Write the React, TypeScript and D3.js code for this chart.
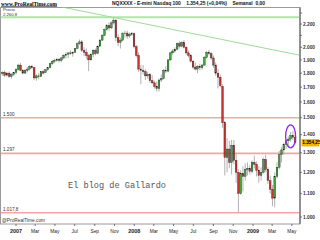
import React from 'react';
import * as d3 from 'd3';

// Weekly candles starting week of 2006-11-20
const startWeek = new Date(2006, 10, 20);
const opens = [1795,1805,1785,1800,1775,1790,1805,1825,1860,1820,1800,1820,1830,1850,1840,1765,1780,1775,1810,1805,1825,1840,1870,1890,1895,1905,1895,1915,1935,1945,1955,1950,1960,1990,2030,2045,1975,1960,1935,1900,1945,1975,1950,2010,2060,2100,2150,2185,2165,2210,2235,2080,2040,2060,2115,2120,2095,2110,2115,2005,1935,1830,1820,1810,1780,1790,1745,1730,1705,1690,1750,1760,1820,1815,1900,1955,1970,1985,2030,2010,2040,2000,1955,1935,1890,1845,1830,1850,1840,1860,1920,1960,1950,1915,1860,1800,1770,1705,1470,1275,1320,1250,1340,1260,1200,1100,1195,1180,1215,1220,1205,1250,1240,1210,1185,1200,1265,1215,1160,1120,1080,1180,1225,1290,1315,1345,1365,1375,1395,1385];
const highs = [1815,1820,1810,1812,1800,1810,1835,1870,1875,1830,1830,1845,1860,1862,1845,1790,1800,1815,1825,1830,1845,1880,1900,1910,1915,1915,1925,1945,1960,1960,1975,1965,1995,2040,2065,2060,2000,1990,1945,1950,1985,1990,2015,2070,2110,2160,2200,2215,2225,2260,2245,2110,2080,2130,2140,2140,2125,2130,2125,2020,1960,1860,1860,1830,1810,1800,1785,1745,1740,1760,1790,1830,1850,1905,1965,1985,2000,2040,2050,2050,2060,2010,1975,1945,1900,1880,1860,1870,1870,1930,1970,1980,1960,1935,1880,1830,1790,1720,1480,1380,1365,1370,1370,1300,1215,1210,1230,1245,1250,1235,1260,1285,1255,1230,1225,1275,1290,1225,1185,1140,1200,1250,1310,1330,1355,1375,1390,1415,1420,1400];
const lows = [1780,1770,1775,1765,1760,1780,1790,1820,1815,1790,1795,1805,1820,1830,1750,1745,1755,1770,1790,1800,1815,1835,1860,1875,1885,1880,1885,1905,1910,1915,1940,1925,1955,1985,2020,1960,1930,1910,1815,1895,1920,1935,1945,2005,2050,2095,2140,2140,2155,2195,2050,2010,1990,2050,2080,2070,2080,2095,1990,1920,1810,1720,1790,1750,1760,1730,1720,1690,1670,1670,1735,1755,1800,1805,1890,1940,1955,1975,1990,2000,1990,1940,1920,1880,1830,1820,1800,1820,1825,1855,1910,1935,1900,1840,1780,1690,1700,1440,1185,1200,1220,1190,1240,1150,1017.8,1095,1110,1160,1185,1190,1195,1220,1180,1150,1160,1195,1200,1145,1100,1045,1040,1170,1215,1250,1290,1320,1330,1360,1370,1345];
const closes = [1805,1785,1800,1775,1790,1805,1825,1860,1820,1800,1820,1830,1850,1840,1765,1780,1775,1810,1800,1825,1840,1870,1890,1895,1905,1895,1915,1935,1945,1955,1950,1960,1990,2030,2045,1975,1960,1935,1900,1945,1975,1950,2010,2060,2100,2150,2185,2165,2210,2235,2080,2040,2060,2115,2120,2095,2110,2115,2005,1935,1830,1820,1810,1780,1790,1745,1730,1705,1690,1750,1760,1820,1815,1900,1955,1970,1985,2030,2010,2040,2000,1955,1935,1890,1845,1830,1850,1840,1860,1920,1960,1950,1915,1860,1800,1770,1710,1470,1275,1320,1250,1340,1260,1200,1100,1195,1180,1215,1220,1205,1250,1240,1210,1185,1200,1265,1215,1160,1120,1080,1180,1225,1290,1315,1345,1365,1375,1395,1385,1354.25];

const yTickValues = [2200, 2000, 1900, 1800, 1700, 1600, 1500, 1400, 1300, 1200, 1100, 1000];
const yTickLabels = ['2.200', '2.000', '1.900', '1.800', '1.700', '1.600', '1.500', '1.400', '1.300', '1.200', '1.100', '1.000'];
const yMinorTicks = [2300, 2100];
const xTickDates = ['2007-01-01','2007-03-01','2007-05-01','2007-07-01','2007-09-01','2007-11-01','2008-01-01','2008-03-01','2008-05-01','2008-07-01','2008-09-01','2008-11-01','2009-01-01','2009-03-01','2009-05-01'];
const xTickLabels = ['2007','Mar','May','Jul','Sep','Nov','2008','Mar','May','Jul','Sep','Nov','2009','Mar','May'];

const greenLevels = [2260.8];
const greenLabels = ['2.260,8'];
const redLevels = [1500, 1297, 1017.8];
const redLabels = ['1.500', '1.297', '1.017,8'];
const trendDates = ['2007-11-05', '2009-05-26'];
const trendPrices = [2255, 1936];
const lastPrice = 1354.25;
const lastLabel = '1.354,25';

const parse = (s: string) => { const [y, m, d] = s.split('-').map(Number); return new Date(y, m - 1, d); };

export default function App() {
  const W = 320, H = 240;
  const left = 0.5, right = 300, top = 7.5, bottom = 224;
  const x = d3.scaleTime().domain([new Date(2007, 0, 1), new Date(2009, 0, 1)]).range([16, 253]);
  const y = d3.scaleLog().domain([1000, 2200]).range([217, 24]);
  const dates = opens.map((_, i) => d3.timeDay.offset(startWeek, 7 * i));
  const bw = 1.7;
  const up = '#3aaa3a', down = '#cc3333';
  const font = 'Liberation Sans, Arial, sans-serif';

  const tx1 = x(parse(trendDates[0])), ty1 = y(trendPrices[0]);
  const tx2 = x(parse(trendDates[1])), ty2 = y(trendPrices[1]);

  return (
    <div>
      <style>{`body{margin:0;background:#fff}`}</style>
      <svg width={W} height={H} viewBox={`0 0 ${W} ${H}`} style={{ display: 'block' }}>
        <rect x={0} y={0} width={W} height={H} fill="#fff" />
        <defs>
          <clipPath id="plot"><rect x={left} y={top} width={right - left} height={bottom - top} /></clipPath>
        </defs>
        {/* header */}
        <text x={1} y={5.5} fontFamily="Liberation Serif, serif" fontWeight="bold" fontSize={6.3} textLength={56} lengthAdjust="spacingAndGlyphs" textDecoration="underline" fill="#000">www.ProRealTime.com</text>
        <text x={112} y={5} fontFamily={font} fontWeight="bold" fontSize={5} textLength={153} lengthAdjust="spacingAndGlyphs" fill="#111" xmlSpace="preserve">{'NQXXXX - E-mini Nasdaq 100    1.354,25 (+0,04%)    Semanal  0,00'}</text>

        {/* frame */}
        <rect x={left} y={top} width={right - left} height={bottom - top} fill="none" stroke="#9a9a9a" strokeWidth={1} />

        <g clipPath="url(#plot)">
          {greenLevels.map((v, i) => (
            <line key={'g' + i} x1={left} x2={right} y1={y(v)} y2={y(v)} stroke="#b4e3ad" strokeWidth={2} />
          ))}
          {redLevels.map((v, i) => (
            <line key={'r' + i} x1={left} x2={right} y1={y(v)} y2={y(v)} stroke="#f3a5a5" strokeWidth={1.6} />
          ))}
          <line x1={tx1 + (tx1 - tx2) * 0.4} y1={ty1 + (ty1 - ty2) * 0.4} x2={tx2} y2={ty2} stroke="#9fdc96" strokeWidth={1} />

          <text x={117} y={188} textAnchor="middle" fontFamily="Liberation Mono, monospace" fontSize={8.6} fill="#555">El blog de Gallardo</text>

          {dates.map((d, i) => {
            const cx = x(d);
            const o = opens[i], c = closes[i];
            const yTop = y(Math.max(o, c)), yBot = y(Math.min(o, c));
            return (
              <g key={i}>
                <line x1={cx} x2={cx} y1={y(highs[i])} y2={y(lows[i])} stroke="#a8a8a8" strokeWidth={0.9} />
                <rect x={cx - bw / 2} y={yTop} width={bw} height={Math.max(0.6, yBot - yTop)} fill={c >= o ? up : down} stroke="#1a1a1a" strokeWidth={0.35} />
              </g>
            );
          })}

          <ellipse cx={x(dates[127])} cy={y(1390)} rx={5} ry={11.5} fill="none" stroke="#8a2be2" strokeWidth={1.3} />
        </g>

        {/* left labels */}
        <text x={3} y={11.2} fontFamily={font} fontSize={4.2} fill="#333">Precio</text>
        {greenLevels.map((v, i) => (
          <text key={'gl' + i} x={3} y={y(v) - 1.3} fontFamily={font} fontSize={4.2} fill="#333">{greenLabels[i]}</text>
        ))}
        {redLevels.map((v, i) => (
          <text key={'rl' + i} x={3} y={y(v) - 2} fontFamily={font} fontSize={4.6} fill="#333">{redLabels[i]}</text>
        ))}
        <text x={2} y={222} fontFamily={font} fontSize={4.8} fill="#333">@ProRealTime.com</text>

        {/* right axis */}
        <line x1={right} x2={right} y1={top} y2={bottom} stroke="#555" strokeWidth={1} />
        {yMinorTicks.map((v, i) => (
          <line key={'m' + i} x1={right} x2={right + 2} y1={y(v)} y2={y(v)} stroke="#555" strokeWidth={0.8} />
        ))}
        {yTickValues.map((v, i) => (
          <g key={'yt' + i}>
            <line x1={right} x2={right + 2} y1={y(v)} y2={y(v)} stroke="#555" strokeWidth={0.8} />
            <text x={right + 3} y={y(v) + 1.7} fontFamily={font} fontWeight="bold" fontSize={4.8} fill="#333">{yTickLabels[i]}</text>
          </g>
        ))}
        <rect x={right + 1.5} y={y(lastPrice) - 3.7} width={17.5} height={7.4} fill="#f2b600" />
        <text x={right + 2.3} y={y(lastPrice) + 1.7} fontFamily={font} fontWeight="bold" fontSize={4.7} fill="#000">{lastLabel}</text>

        {/* bottom axis */}
        {xTickDates.map((s, i) => {
          const px = x(parse(s));
          const isYear = /^\d{4}$/.test(xTickLabels[i]);
          return (
            <g key={'xt' + i}>
              <line x1={px} x2={px} y1={bottom} y2={bottom + 2} stroke="#555" strokeWidth={0.8} />
              <text x={px} y={233} textAnchor="middle" fontFamily={font} fontWeight={isYear ? 'bold' : 'normal'} fontSize={isYear ? 5.4 : 4.8} fill="#222">{xTickLabels[i]}</text>
            </g>
          );
        })}
      </svg>
    </div>
  );
}
